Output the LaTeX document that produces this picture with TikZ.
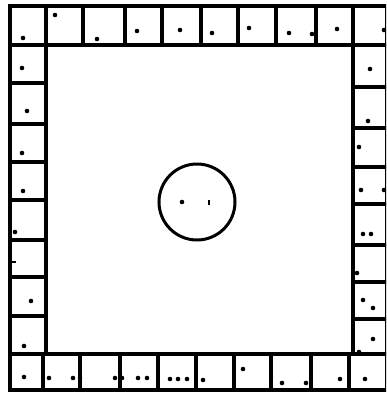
\documentclass[tikz,border=0pt]{standalone}
\begin{document}
\begin{tikzpicture}[x=1pt,y=-1pt,
  wall/.style={line width=3.8pt,line cap=rect},
  pip/.style={fill=black,draw=none},
  ring/.style={line width=3pt}]
\useasboundingbox (0,0) rectangle (386,394);
\clip (0,0) rectangle (386,394);
% outer frame
\draw[wall] (10,6) rectangle (387,390);
% inner frame lines running through
\draw[wall] (10,45) -- (387,45);
\draw[wall] (10,354) -- (387,354);
\draw[wall] (46,6) -- (46,354);
\draw[wall] (353,6) -- (353,354);
% top row dividers
\foreach \x in {83,125,162,201,238,276,316}
  \draw[wall] (\x,6) -- (\x,45);
% bottom row dividers
\foreach \x in {43,80,120,158,196,234,271,311,349}
  \draw[wall] (\x,354) -- (\x,390);
% left column dividers
\foreach \y in {83,124,162,200,240,277,316}
  \draw[wall] (10,\y) -- (46,\y);
% right column dividers
\foreach \y in {87,128,167,204,245,282,319}
  \draw[wall] (353,\y) -- (387,\y);
% pips
\foreach \p in {(23,38),(55,15),(97,39),(137,31),(180,30),(212,33),(249,28),(289,33),(312,34),(337,29),(384,30),
  (370,69),(368,121),(359,147),(361,190),(384,190),(363,234),(371,234),(357,273),(363,300),(373,308),(373,339),(359,352),
  (22,68),(27,111),(22,153),(23,191),(15,232),(31,301),(24,346),
  (24,377),(49,378),(73,378),(80,378),(115,378),(122,378),(138,378),(147,378),(170,379),(178,379),(187,379),
  (203,380),(243,369),(282,383),(306,383),(340,379),(365,379),(182,202)}
  \fill[pip] \p circle (2.3);
\draw[line width=2.5pt] (11,262) -- (16,262);
\draw[line width=1.5pt] (209,199.5) -- (209,204.5);
% circle
\draw[ring] (197,202) circle (38);
\end{tikzpicture}
\end{document}
